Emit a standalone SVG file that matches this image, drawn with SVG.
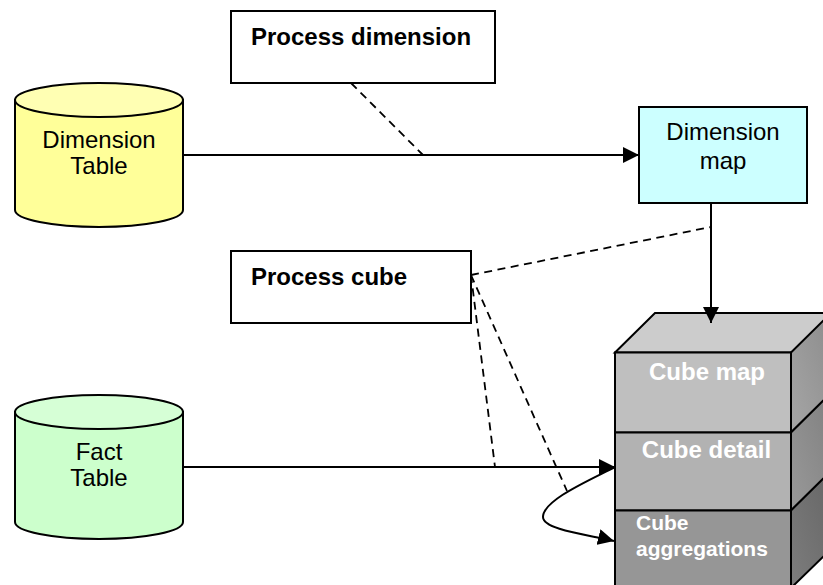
<svg xmlns="http://www.w3.org/2000/svg" width="823" height="585" viewBox="0 0 823 585">
<style>
text{font-family:"Liberation Sans",Arial,sans-serif;font-size:24px}
.o{stroke:#000;stroke-width:2}
.b{font-weight:700}
.w{fill:#fff;font-weight:700}
.c{text-anchor:middle}
.d{fill:none;stroke:#000;stroke-width:1.800;stroke-dasharray:8 5.500}
.l{fill:none;stroke:#000;stroke-width:2}
</style>
<defs>
<marker id="a" markerUnits="userSpaceOnUse" markerWidth="16" markerHeight="16" refX="16" refY="8" orient="auto"><path d="M0 0L16 8L0 16Z" fill="#000"/></marker>
<linearGradient id="s1" x1="0" y1="1" x2="1" y2="0"><stop offset="0" stop-color="#a6a6a6"/><stop offset="1" stop-color="#8c8c8c"/></linearGradient>
<linearGradient id="s2" x1="0" y1="1" x2="1" y2="0"><stop offset="0" stop-color="#999"/><stop offset="1" stop-color="#808080"/></linearGradient>
<linearGradient id="s3" x1="0" y1="1" x2="1" y2="0"><stop offset="0" stop-color="#7d7d7d"/><stop offset="1" stop-color="#666"/></linearGradient>
</defs>
<rect width="823" height="585" fill="#fff"/>
<g id="dimension-table">
<path class="o" fill="#ffff99" d="M15 100V210C15 219.500 52.600 227 99 227S183 219.500 183 210V100Z"/>
<ellipse class="o" cx="99" cy="100" rx="84" ry="17" fill="#ffffb3"/>
<text class="c" x="99" y="148">Dimension</text>
<text class="c" x="99" y="174">Table</text>
</g>
<g id="fact-table">
<path class="o" fill="#ccffcc" d="M15 412V522C15 531.500 52.600 539 99 539S183 531.500 183 522V412Z"/>
<ellipse class="o" cx="99" cy="412" rx="84" ry="17" fill="#d6ffd6"/>
<text class="c" x="99" y="460">Fact</text>
<text class="c" x="99" y="486">Table</text>
</g>
<g id="process-dimension">
<rect class="o" x="231" y="11" width="264" height="72" fill="#fff"/>
<text class="b" x="251" y="45">Process dimension</text>
</g>
<g id="process-cube">
<rect class="o" x="231" y="251" width="240" height="72" fill="#fff"/>
<text class="b" x="251" y="285">Process cube</text>
</g>
<g id="dimension-map">
<rect class="o" x="639" y="107" width="168" height="96" fill="#ccffff"/>
<text class="c" x="723" y="140">Dimension</text>
<text class="c" x="723" y="169">map</text>
</g>
<g id="cube">
<path class="o" fill="#cccccc" d="M615 352.500L655 313H840V352.500Z"/>
<path class="o" fill="url(#s1)" d="M791 352.500L831 313V393L791 432.500Z"/>
<path class="o" fill="url(#s2)" d="M791 432.500L831 393V471L791 510.500Z"/>
<path class="o" fill="url(#s3)" d="M791 510.500L831 471V549L791 588Z"/>
<rect class="o" x="615" y="352.500" width="176" height="80" fill="#bfbfbf"/>
<rect class="o" x="615" y="432.500" width="176" height="78" fill="#b2b2b2"/>
<rect class="o" x="615" y="510.500" width="176" height="80" fill="#969696"/>
<text class="w c" x="707" y="380">Cube map</text>
<text class="w c" x="706.500" y="458">Cube detail</text>
<text class="w" x="636" y="530" style="font-size:21px">Cube</text>
<text class="w" x="636" y="556" style="font-size:21px">aggregations</text>
</g>
<g id="connectors">
<path class="l" marker-end="url(#a)" d="M183 155H639"/>
<path class="l" marker-end="url(#a)" d="M183 467H615"/>
<path class="l" marker-end="url(#a)" d="M711 203V323"/>
<path class="l" marker-end="url(#a)" d="M615 467C590 480 543 500 543 517C543 530 590 535 614 541"/>
<path class="d" d="M351 83L423 155"/>
<path class="d" d="M471 275L711 227"/>
<path class="d" d="M471 275L495 467"/>
<path class="d" d="M471 275L567 491"/>
</g>
</svg>
